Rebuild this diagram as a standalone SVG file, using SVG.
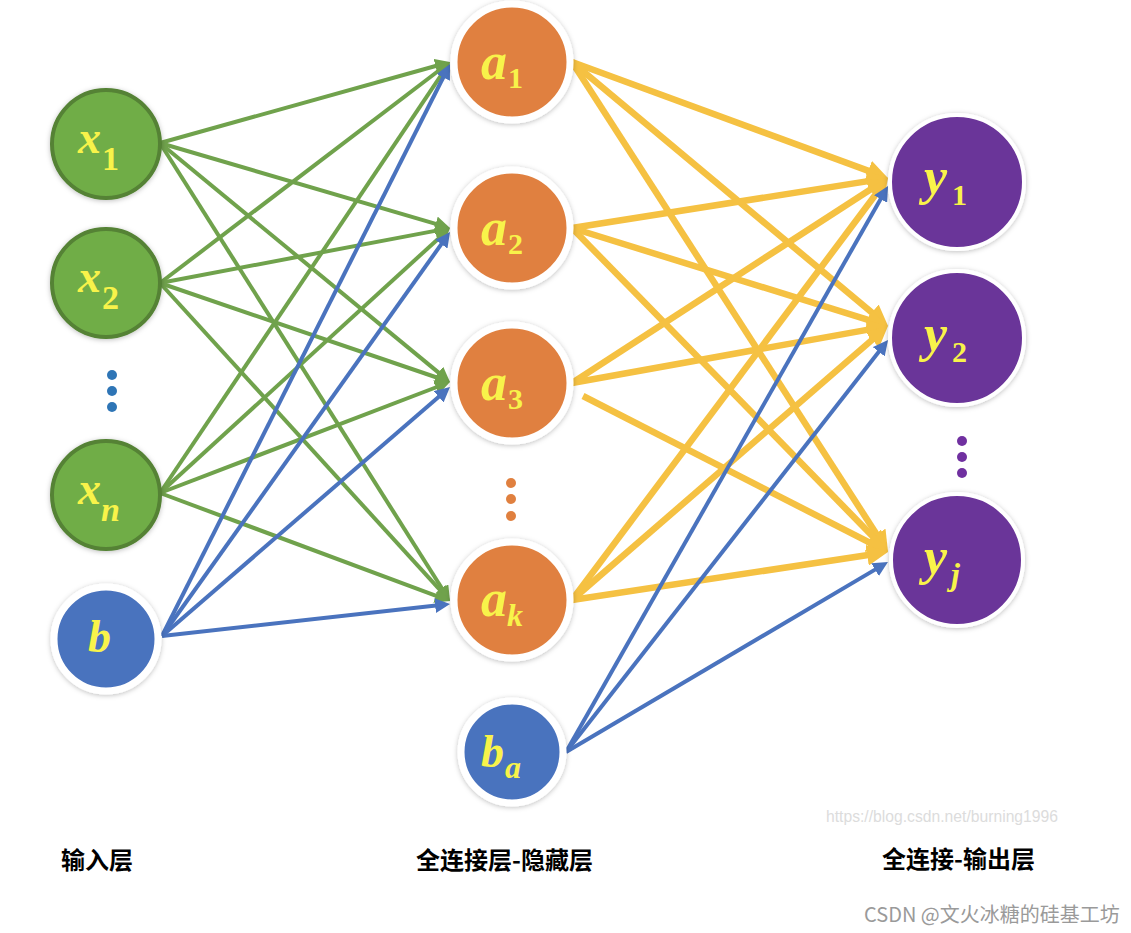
<svg xmlns="http://www.w3.org/2000/svg" width="1131" height="933" viewBox="0 0 1131 933">
<style>
.g{stroke:#70A24C;stroke-width:4;fill:none}
.bl{stroke:#4A73BE;stroke-width:4;fill:none}
.y{stroke:#F5C142;stroke-width:6.5;fill:none}
.ng{fill:#70AD47;stroke:#548235;stroke-width:4}
.no{fill:#E0803F;stroke:#fff;stroke-width:7}
.nb{fill:#4A73BE;stroke:#fff;stroke-width:7}
.np{fill:#6B3499;stroke:#fff;stroke-width:4}
.lbl{font-family:"Liberation Serif",serif;font-weight:bold;font-style:italic;fill:#F8F34A}
.up{font-style:normal}
.cap{font-family:"Noto Sans CJK SC",sans-serif;font-weight:bold;font-size:24px;fill:#000}
</style>
<defs>
<filter id="sh" x="-20%" y="-20%" width="140%" height="140%"><feDropShadow dx="0" dy="1" stdDeviation="2.5" flood-color="#000" flood-opacity="0.25"/></filter>
<marker id="mg" markerUnits="userSpaceOnUse" markerWidth="16" markerHeight="15" refX="1" refY="7.5" orient="auto"><path d="M0,0 L15,7.5 L0,15 Z" fill="#70A24C"/></marker>
<marker id="mb" markerUnits="userSpaceOnUse" markerWidth="16" markerHeight="15" refX="1" refY="7.5" orient="auto"><path d="M0,0 L15,7.5 L0,15 Z" fill="#4A73BE"/></marker>
<marker id="my" markerUnits="userSpaceOnUse" markerWidth="22" markerHeight="21" refX="1" refY="10.5" orient="auto"><path d="M0,0 L21,10.5 L0,21 Z" fill="#F5C142"/></marker>
</defs>
<rect width="1131" height="933" fill="#fff"/>
<g id="connectors">
<g marker-end="url(#mg)" class="g">
<line x1="160" y1="143" x2="436.5" y2="65.8"/>
<line x1="160" y1="143" x2="436.6" y2="224.1"/>
<line x1="160" y1="143" x2="439.2" y2="373.1"/>
<line x1="160" y1="143" x2="442.5" y2="589.2"/>
<line x1="160" y1="283" x2="438.9" y2="70.5"/>
<line x1="160" y1="283" x2="436.3" y2="230.6"/>
<line x1="160" y1="283" x2="436.8" y2="377.5"/>
<line x1="160" y1="283" x2="440.6" y2="590.7"/>
<line x1="160" y1="493" x2="442.2" y2="73.6"/>
<line x1="160" y1="493" x2="439.7" y2="237.4"/>
<line x1="160" y1="493" x2="436.9" y2="387.0"/>
<line x1="160" y1="493" x2="436.9" y2="596.1"/>
</g>
<g marker-end="url(#mb)" class="bl">
<line x1="162" y1="636" x2="443.7" y2="76.5"/>
<line x1="162" y1="636" x2="441.9" y2="243.4"/>
<line x1="162" y1="636" x2="439.4" y2="396.2"/>
<line x1="162" y1="636" x2="436.1" y2="605.5"/>
</g>
<g marker-end="url(#my)" class="y">
<line x1="572" y1="62" x2="869.2" y2="171.1"/>
<line x1="572" y1="62" x2="872.7" y2="313.2"/>
<line x1="572" y1="62" x2="877.2" y2="535.2"/>
<line x1="572" y1="228" x2="868.2" y2="181.1"/>
<line x1="572" y1="228" x2="868.9" y2="320.1"/>
<line x1="572" y1="228" x2="874.0" y2="537.7"/>
<line x1="572" y1="383" x2="871.2" y2="188.9"/>
<line x1="572" y1="383" x2="868.3" y2="329.6"/>
<line x1="583" y1="396" x2="870.2" y2="542.9"/>
<line x1="572" y1="600" x2="876.0" y2="194.0"/>
<line x1="572" y1="600" x2="872.9" y2="339.1"/>
<line x1="572" y1="600" x2="868.2" y2="555.0"/>
</g>
<g marker-end="url(#mb)" class="bl">
<line x1="566" y1="752" x2="881.1" y2="198.2"/>
<line x1="566" y1="752" x2="879.4" y2="351.0"/>
<line x1="566" y1="752" x2="875.9" y2="569.1"/>
</g>
</g>
<g id="x1"><circle class="ng" cx="106" cy="144" r="54" filter="url(#sh)"/><text class="lbl" x="78" y="153" font-size="46">x<tspan class="up" x="102" y="170" font-size="34">1</tspan></text></g>
<g id="x2"><circle class="ng" cx="106" cy="283" r="54" filter="url(#sh)"/><text class="lbl" x="78" y="292" font-size="46">x<tspan class="up" x="102" y="309" font-size="34">2</tspan></text></g>
<g id="dots-in" fill="#2E75B6"><circle cx="112" cy="375" r="5"/><circle cx="112" cy="391" r="5"/><circle cx="112" cy="407" r="5"/></g>
<g id="xn"><circle class="ng" cx="106" cy="495" r="54" filter="url(#sh)"/><text class="lbl" x="78" y="504" font-size="46">x<tspan x="101" y="521" font-size="34">n</tspan></text></g>
<g id="b"><circle class="nb" cx="106" cy="639" r="52" filter="url(#sh)"/><text class="lbl" x="88" y="652" font-size="46">b</text></g>
<g id="a1"><circle class="no" cx="512" cy="62" r="58" filter="url(#sh)"/><text class="lbl" x="481" y="79" font-size="52">a<tspan class="up" x="508" y="88" font-size="30">1</tspan></text></g>
<g id="a2"><circle class="no" cx="512" cy="228" r="58" filter="url(#sh)"/><text class="lbl" x="481" y="245" font-size="52">a<tspan class="up" x="508" y="254" font-size="30">2</tspan></text></g>
<g id="a3"><circle class="no" cx="512" cy="383" r="58" filter="url(#sh)"/><text class="lbl" x="481" y="400" font-size="52">a<tspan class="up" x="508" y="409" font-size="30">3</tspan></text></g>
<g id="dots-hid" fill="#E0803F"><circle cx="511" cy="483" r="5"/><circle cx="511" cy="499" r="5"/><circle cx="511" cy="516" r="5"/></g>
<g id="ak"><circle class="no" cx="512" cy="600" r="58" filter="url(#sh)"/><text class="lbl" x="481" y="616" font-size="52">a<tspan x="507" y="626" font-size="32">k</tspan></text></g>
<g id="ba"><circle class="nb" cx="512" cy="752" r="51" filter="url(#sh)"/><text class="lbl" x="481" y="767" font-size="46">b<tspan x="505" y="778" font-size="32">a</tspan></text></g>
<g id="y1"><circle class="np" cx="957" cy="182" r="67" filter="url(#sh)"/><text class="lbl" x="924" y="194" font-size="52">y<tspan class="up" x="952" y="205" font-size="30">1</tspan></text></g>
<g id="y2"><circle class="np" cx="957" cy="338" r="67" filter="url(#sh)"/><text class="lbl" x="924" y="351" font-size="52">y<tspan class="up" x="952" y="362" font-size="30">2</tspan></text></g>
<g id="dots-out" fill="#7030A0"><circle cx="962" cy="441" r="5"/><circle cx="962" cy="457" r="5"/><circle cx="962" cy="473" r="5"/></g>
<g id="yj"><circle class="np" cx="957" cy="560" r="66" filter="url(#sh)"/><text class="lbl" x="924" y="574" font-size="52">y<tspan x="951" y="585" font-size="32">j</tspan></text></g>
<g id="captions">
<text class="cap" x="61" y="869">输入层</text>
<text class="cap" x="416" y="869">全连接层-隐藏层</text>
<text class="cap" x="882" y="868">全连接-输出层</text>
<text x="826" y="822" font-family="Liberation Sans,sans-serif" font-size="15.7" fill="#DCDCDC">https://blog.csdn.net/burning1996</text>
<text x="864" y="922" font-family="'Noto Sans CJK SC',sans-serif" font-size="20" fill="#9A9A9A">CSDN @文火冰糖的硅基工坊</text>
</g>
</svg>
